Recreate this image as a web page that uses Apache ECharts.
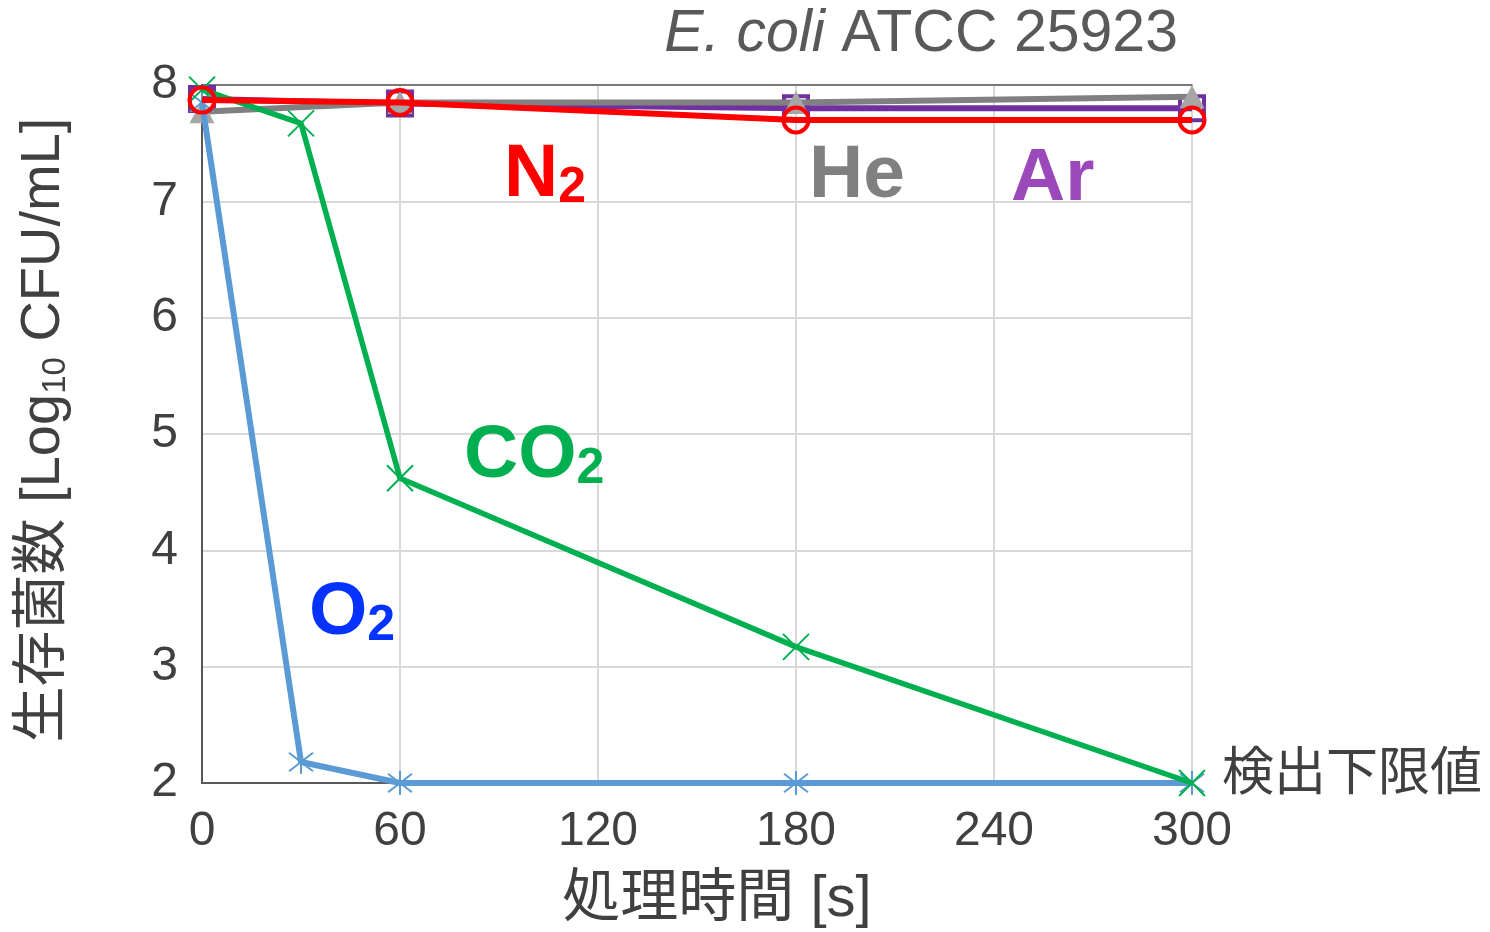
<!DOCTYPE html>
<html>
<head>
<meta charset="utf-8">
<script src="https://cdn.jsdelivr.net/npm/echarts@6/dist/echarts.min.js"></script>
<style>
html,body{margin:0;padding:0;background:#fff;}
#chart{width:1490px;height:932px;}
</style>
</head>
<body>
<div id="chart"></div>
<script>
// ---- data ----
const timeO2CO2 = [0, 30, 60, 180, 300];
const O2 = [7.85, 2.18, 2.0, 2.0, 2.0];
const CO2 = [7.96, 7.67, 4.62, 3.17, 2.0];
const timeInert = [0, 60, 180, 300];
const N2 = [7.87, 7.85, 7.70, 7.70];
const He = [7.77, 7.85, 7.85, 7.90];
const Ar = [7.88, 7.84, 7.80, 7.80];
const xTicks = [0, 60, 120, 180, 240, 300];
const yTicks = [2, 3, 4, 5, 6, 7, 8];

const LAT = '"Liberation Sans", Arial, "Noto Sans CJK JP", sans-serif';
const JP = '"Liberation Sans", "Noto Sans CJK JP", sans-serif';

function pairs(xs, ys) { return xs.map((x, i) => [x, ys[i]]); }

const asterisk = 'path://M0,0L10,10M10,0L0,10M5,-1.5L5,11.5';
const cross = 'path://M0,0L10,10M10,0L0,10';

const chart = echarts.init(document.getElementById('chart'), null, {renderer: 'canvas'});

function gasLabel(x, y, main, sub, color) {
  return {
    type: 'text', left: x, top: y, z: 100,
    style: {
      text: '{m|' + main + '}' + (sub ? '{s|' + sub + '}' : ''),
      rich: {
        m: {fontSize: 75, lineHeight: 75, fontWeight: 'bold', fontFamily: LAT, fill: color, color: color},
        s: {fontSize: 50, lineHeight: 46, fontWeight: 'bold', fontFamily: LAT, fill: color, color: color, verticalAlign: 'bottom'}
      },
      fill: color
    }
  };
}

const frameAxis = {
  axisLine: {show: true, lineStyle: {color: '#595959', width: 1.5}},
  axisTick: {show: false}, axisLabel: {show: false}, splitLine: {show: false}
};

const option = {
  backgroundColor: '#ffffff',
  animation: false,
  grid: {left: 202, top: 85, right: 298, bottom: 149, containLabel: false},
  xAxis: [{
    type: 'value', min: 0, max: 300, interval: 60,
    axisLine: {show: true, lineStyle: {color: '#595959', width: 2}},
    axisTick: {show: false},
    splitLine: {show: true, lineStyle: {color: '#d9d9d9', width: 2}},
    axisLabel: {color: '#404040', fontSize: 48, fontFamily: LAT, margin: 25,
      formatter: v => xTicks.includes(v) ? String(v) : ''}
  }, Object.assign({type: 'value', min: 0, max: 300, interval: 60, position: 'top'}, frameAxis)],
  yAxis: [{
    type: 'value', min: 2, max: 8, interval: 1,
    axisLine: {show: true, lineStyle: {color: '#595959', width: 2}},
    axisTick: {show: false},
    splitLine: {show: true, lineStyle: {color: '#d9d9d9', width: 2}},
    axisLabel: {color: '#404040', fontSize: 48, fontFamily: LAT, margin: 24,
      formatter: v => yTicks.includes(v) ? String(v) : ''}
  }, Object.assign({type: 'value', min: 2, max: 8, interval: 1, position: 'right'}, frameAxis)],
  series: [
    {
      name: 'Ar', type: 'line', data: pairs(timeInert, Ar), clip: false, z: 2,
      symbol: 'rect', symbolSize: 24,
      lineStyle: {color: '#7030a0', width: 6},
      itemStyle: {color: 'rgba(255,255,255,0)', borderColor: '#7030a0', borderWidth: 4}
    },
    {
      name: 'He', type: 'line', data: pairs(timeInert, He), clip: false, z: 3,
      symbol: 'triangle', symbolSize: [25, 23],
      lineStyle: {color: '#808080', width: 6},
      itemStyle: {color: '#a6a6a6', borderWidth: 0}
    },
    {
      name: 'O2', type: 'line', data: pairs(timeO2CO2, O2), clip: false, z: 4,
      symbol: asterisk, symbolSize: 24,
      lineStyle: {color: '#5b9bd5', width: 6},
      itemStyle: {color: 'rgba(0,0,0,0)', borderColor: '#5b9bd5', borderWidth: 2}
    },
    {
      name: 'CO2', type: 'line', data: pairs(timeO2CO2, CO2), clip: false, z: 5,
      symbol: cross, symbolSize: 26,
      lineStyle: {color: '#00b050', width: 5.5},
      itemStyle: {color: 'rgba(0,0,0,0)', borderColor: '#00b050', borderWidth: 2}
    },
    {
      name: 'N2', type: 'line', data: pairs(timeInert, N2), clip: false, z: 6,
      symbol: 'circle', symbolSize: 25,
      lineStyle: {color: '#ff0000', width: 6},
      itemStyle: {color: 'rgba(255,255,255,0)', borderColor: '#ff0000', borderWidth: 4}
    }
  ],
  graphic: [
    {
      type: 'text', right: 1490 - 1178, top: 5, z: 100,
      style: {
        text: '{i|E. coli} {n|ATCC 25923}',
        rich: {
          i: {fontSize: 59, fontStyle: 'italic', fontFamily: LAT, fill: '#595959', color: '#595959'},
          n: {fontSize: 59, fontFamily: LAT, fill: '#595959', color: '#595959'}
        },
        fontSize: 59, fontFamily: LAT, fill: '#595959'
      }
    },
    gasLabel(504, 138, 'N', '2', '#ff0000'),
    gasLabel(809, 139, 'He', '', '#808080'),
    gasLabel(1011, 142, 'Ar', '', '#9b48ba'),
    gasLabel(464, 419, 'CO', '2', '#00b050'),
    gasLabel(309, 576, 'O', '2', '#0432ff'),
    {
      type: 'text', left: 1222, top: 750, z: 100,
      style: {text: '検出下限値', fontSize: 52, fontFamily: JP, fill: '#404040'}
    },
    {
      type: 'text', x: 717, y: 900, z: 100,
      style: {text: '処理時間 [s]', fontSize: 58, fontFamily: JP, fill: '#404040', align: 'center', verticalAlign: 'middle'}
    },
    {
      type: 'text', x: 44, y: 430, rotation: Math.PI / 2, z: 100,
      style: {
        text: '{a|生存菌数 [Log}{s|10}{a| CFU/mL]}',
        rich: {
          a: {fontSize: 56, lineHeight: 56, fontFamily: JP, fill: '#404040', color: '#404040'},
          s: {fontSize: 33, lineHeight: 35, fontFamily: JP, fill: '#404040', color: '#404040', verticalAlign: 'bottom'}
        },
        align: 'center', verticalAlign: 'middle'
      }
    }
  ]
};
chart.setOption(option);
</script>
</body>
</html>
